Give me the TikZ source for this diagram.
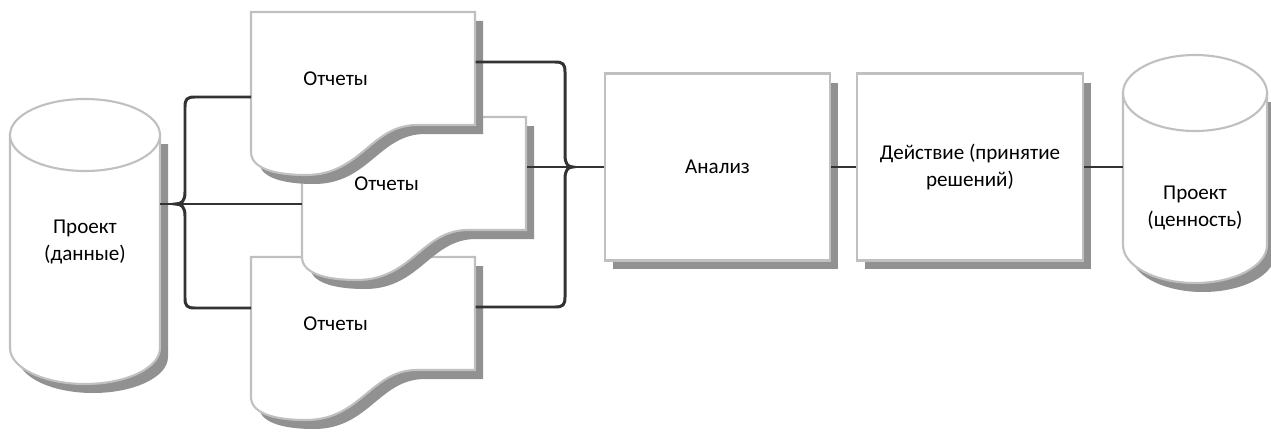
\documentclass[tikz,border=0pt]{standalone}
\usepackage{fontspec}
\setmainfont{Carlito}
\usetikzlibrary{shadows, positioning}
\definecolor{linkgray}{RGB}{51,51,51}
\definecolor{edgegray}{RGB}{192,192,192}
\definecolor{shadowgray}{RGB}{145,145,145}

\begin{document}
\begin{tikzpicture}[
    x=0.02cm, y=0.02cm,
    font=\fontsize{12}{15}\selectfont,
    dropgray/.style={drop shadow={shadow xshift=0.16cm, shadow yshift=-0.18cm, fill=shadowgray, opacity=1}},
    box/.style={rectangle, draw=edgegray, line width=1.2pt, fill=white, dropgray, minimum width=4.5cm, minimum height=3.74cm, align=center},
    sheet/.style={draw=edgegray, line width=1.2pt, fill=white, dropgray},
    sheettext/.style={anchor=north west, minimum width=4.48cm, minimum height=2.64cm, text width=2.4cm, inner xsep=1.04cm, inner ysep=0pt, align=left},
    barrel/.style={draw=edgegray, line width=1.2pt, fill=white},
    link/.style={draw=linkgray, line width=1.7pt}
]
    \useasboundingbox (0,0) rectangle (1271,434);

    % Cylinders
    \filldraw[barrel, dropgray] (10,299) -- (10,86) arc[start angle=180, end angle=360, x radius=75, y radius=36] -- (160,299) -- cycle;
    \filldraw[barrel] (85,299) ellipse[x radius=75, y radius=36];
    \node[align=center, minimum width=3cm] (data) at (85,192) {Проект\\(данные)};

    \filldraw[barrel, dropgray] (1123,341) -- (1123,189) arc[start angle=180, end angle=360, x radius=72, y radius=38] -- (1267,341) -- cycle;
    \filldraw[barrel] (1195,341) ellipse[x radius=72, y radius=38];
    \node[align=center, minimum width=2.88cm] (value) at (1195,226) {Проект\\(ценность)};

    % Reports
    \foreach \nm/\px/\py in {rep3/251/177, rep2/302/317, rep1/251/422} {
        \begin{scope}[shift={(\px,\py)}]
            \filldraw[sheet] (0,0) -- (224,0) -- (224,-113) -- (166,-113)
                .. controls (120,-113) and (110,-163) .. (55,-163)
                .. controls (20,-163) and (0,-155) .. (0,-140) -- cycle;
            \node[sheettext] (\nm) at (0,0) {Отчеты};
        \end{scope}
    }

    % Boxes
    \node[box] (ana) at (717.5,267) {Анализ};
    \node[box, minimum width=4.52cm] (act) at (970,267) {Действие (принятие\\решений)};

    % Braces
    \coordinate (lbt) at (185,337);
    \coordinate (lbb) at (185,126);
    \coordinate (ltip) at (175,230);
    \coordinate (rbt) at (565,372);
    \coordinate (rbb) at (565,127);
    \coordinate (rtip) at (573,267);

    \draw[link] (rep1.west |- lbt) -- (195,337) .. controls (187,337) and (185,335) .. (185,327)
        -- (185,242) .. controls (185,233) and (182,230) .. (ltip)
        .. controls (182,230) and (185,227) .. (185,218)
        -- (185,136) .. controls (185,128) and (187,126) .. (195,126) -- (rep3.west |- lbb);
    \draw[link] (data.east |- ltip) -- (rep2.west |- ltip);

    \draw[link] (rep1.east |- rbt) -- (555,372) .. controls (563,372) and (565,370) .. (565,362)
        -- (565,279) .. controls (565,270) and (568,267) .. (rtip)
        .. controls (568,267) and (565,264) .. (565,255)
        -- (565,137) .. controls (565,129) and (563,127) .. (555,127) -- (rep3.east |- rbb);
    \draw[link] (rep2.east |- ana.west) -- (ana.west);

    % Links
    \draw[link] (ana) -- (act);
    \draw[link] (act.east) -- (act.east -| value.west);
\end{tikzpicture}
\end{document}
